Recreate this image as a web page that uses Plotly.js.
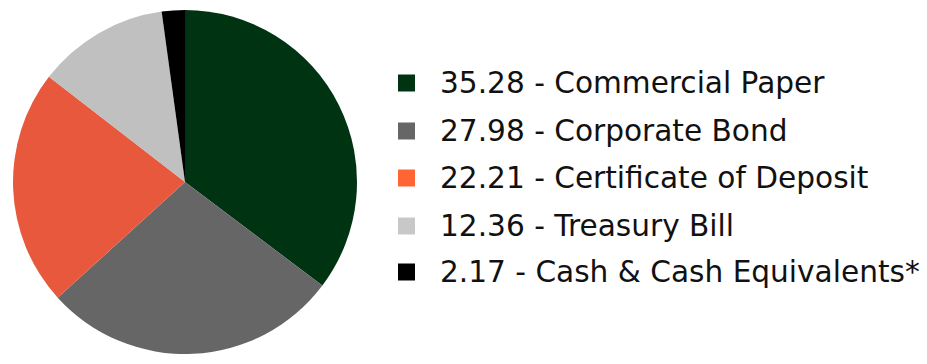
<!DOCTYPE html>
<html><head><meta charset="utf-8">
<script src="https://cdn.plot.ly/plotly-3.0.1.min.js"></script>
<style>html,body{margin:0;padding:0;background:#fff;}#chart{width:927px;height:364px;}</style>
</head><body><div id="chart"></div>
<script>
const categories = ["Commercial Paper", "Corporate Bond", "Certificate of Deposit", "Treasury Bill", "Cash & Cash Equivalents*"];
const values = [35.28, 27.98, 22.21, 12.36, 2.17];
const sliceColors = ["#003311", "#666666", "#e8583c", "#c0c0c0", "#000000"];
const legendColors = ["#003311", "#666666", "#ff6633", "#c8c8c8", "#000000"];

const W = 927, H = 364;
const rowY = [83, 131, 178, 226, 272];
const shapes = [], annotations = [];
categories.forEach((c, i) => {
  shapes.push({type: "rect", xref: "paper", yref: "paper",
    x0: 398 / W, x1: 415 / W, y0: 1 - (rowY[i] + 8.5) / H, y1: 1 - (rowY[i] - 8.5) / H,
    fillcolor: legendColors[i], line: {width: 0}});
  annotations.push({xref: "paper", yref: "paper", x: 438 / W, y: 1 - rowY[i] / H,
    xanchor: "left", yanchor: "middle", showarrow: false,
    text: values[i].toFixed(2) + " - " + c,
    font: {family: "DejaVu Sans", size: 29.6, color: "#111"}});
});

Plotly.newPlot("chart", [{
  type: "pie", labels: categories, values: values, sort: false,
  direction: "clockwise", rotation: 0,
  marker: {colors: sliceColors, line: {width: 0}},
  textinfo: "none", hoverinfo: "none",
  domain: {x: [13 / W, 357 / W], y: [1 - 354 / H, 1 - 10 / H]}
}], {
  width: W, height: H, margin: {l: 0, r: 0, t: 0, b: 0},
  showlegend: false, paper_bgcolor: "#fff",
  shapes: shapes, annotations: annotations
}, {displayModeBar: false, staticPlot: true});
</script></body></html>
